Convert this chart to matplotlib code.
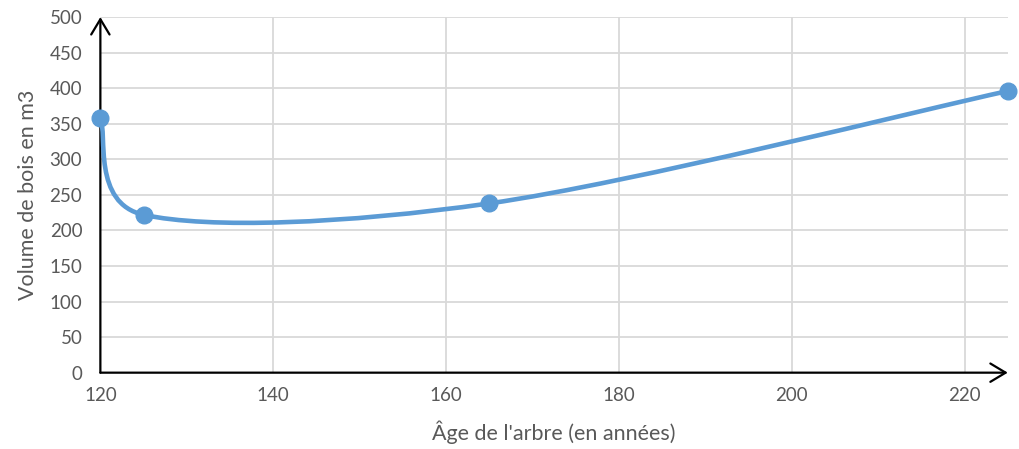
import numpy as np
import matplotlib
matplotlib.use("Agg")
import matplotlib.pyplot as plt
from matplotlib.path import Path
from matplotlib.patches import PathPatch

# data
ages = [120, 125, 165, 225]
volumes = [358, 222, 238, 396]
x_ticks = [120, 140, 160, 180, 200, 220]
y_ticks = [0, 50, 100, 150, 200, 250, 300, 350, 400, 450, 500]

blue = "#5B9BD5"
grey_txt = "#595959"
grid_col = "#D9D9D9"

plt.rcParams['font.family'] = ['Lato', 'DejaVu Sans']

fig = plt.figure(figsize=(10.19, 4.49), dpi=100)
ax = fig.add_axes([0.0985, 0.17, 0.8905, 0.792])
ax.set_xlim(120, 225)
ax.set_ylim(0, 500)

ax.set_xticks(x_ticks)
ax.set_yticks(y_ticks)
ax.tick_params(length=0, labelsize=13.5, labelcolor=grey_txt)
ax.tick_params(axis='x', pad=10)
ax.tick_params(axis='y', pad=13)

for s in ax.spines.values():
    s.set_visible(False)

# grid (no vertical line at 120, the axis sits there)
for v in y_ticks[1:]:
    ax.axhline(v, color=grid_col, lw=1.3, zorder=0)
for v in x_ticks[1:]:
    ax.axvline(v, color=grid_col, lw=1.3, zorder=0)

# axes with arrow heads
arrow = dict(arrowstyle="->,head_length=0.5,head_width=0.3", color="black",
             lw=1.6, mutation_scale=22, shrinkA=0, shrinkB=0)
ax.annotate("", xy=(225, 0), xytext=(120, 0), arrowprops=arrow,
            annotation_clip=False, zorder=3)
ax.annotate("", xy=(120, 500), xytext=(120, 0), arrowprops=arrow,
            annotation_clip=False, zorder=3)

ax.set_xlabel("Âge de l'arbre (en années)", fontsize=15.5, color=grey_txt, labelpad=12)
ax.set_ylabel("Volume de bois en m3", fontsize=15.5, color=grey_txt, labelpad=8)

# Excel-style smoothed line: bezier in display space
pts = ax.transData.transform(np.column_stack([ages, volumes]))
n = len(pts)
verts = [pts[0]]
codes = [Path.MOVETO]
for i in range(n - 1):
    p0 = pts[i - 1] if i > 0 else pts[i]
    p1 = pts[i]
    p2 = pts[i + 1]
    p3 = pts[i + 2] if i + 2 < n else pts[i + 1]
    half = np.hypot(*(p2 - p1)) / 2
    t1 = (p2 - p0) / 6
    t2 = (p3 - p1) / 6
    if np.hypot(*t1) > half:
        t1 = t1 * half / np.hypot(*t1)
    if np.hypot(*t2) > half:
        t2 = t2 * half / np.hypot(*t2)
    verts += [p1 + t1, p2 - t2, p2]
    codes += [Path.CURVE4] * 3
verts = ax.transData.inverted().transform(np.array(verts))
ax.add_patch(PathPatch(Path(verts, codes), facecolor="none", edgecolor=blue,
                       lw=3.3, capstyle="round", zorder=4, clip_on=False))
ax.plot(ages, volumes, "o", color=blue, ms=12, zorder=5, clip_on=False)

fig.savefig("out.png", dpi=100)
